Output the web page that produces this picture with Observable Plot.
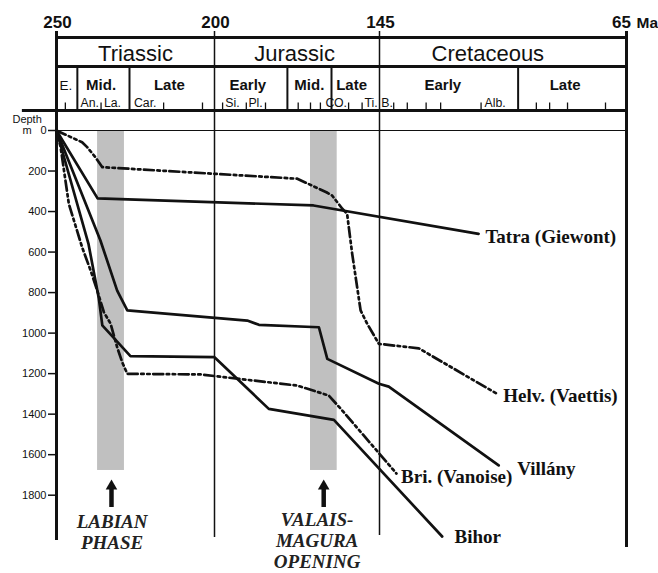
<!DOCTYPE html>
<html><head><meta charset="utf-8">
<script src="https://cdn.jsdelivr.net/npm/d3@7"></script>
<script src="https://cdn.jsdelivr.net/npm/@observablehq/plot@0.6"></script>
<style>body{margin:0;background:#fff;overflow:hidden}</style>
</head><body><div id="chart"></div>
<script>
// ---- data (ages in Ma, depths in m) ----
const ageTicks = [250, 200, 145, 65];
const depthTicks = [0, 200, 400, 600, 800, 1000, 1200, 1400, 1600, 1800];
const periods = ["Triassic", "Jurassic", "Cretaceous"];
const periodMid = [225, 173.3, 109.9];
const epochs = ["E.", "Mid.", "Late", "Early", "Mid.", "Late", "Early", "Late"];
const epochMid = [247, 235.9, 214.3, 188.9, 168.4, 154.3, 124.5, 84.9];
const epochBounds = [243.4, 226.9, 175.7, 161, 100.1];
const stages = ["An.", "La.", "Car.", "Si.", "Pl.", "C", "O.", "Ti.", "B.", "Alb."];
const stageStart = [242.4, 235, 225.5, 196.4, 188.7, 163, 160.2, 150, 144.4, 111];
const stageTicks = [247.2, 235.9, 216.1, 203.8, 197.3, 189.4, 183, 172.1, 168, 164.7, 155.3, 150.8,
  140.4, 136, 129.9, 125.2, 112.1, 94.2, 89.9, 84.1, 71.8];

const tatra = [[250,0],[237,335],[167,370],[112.9,510]];
const helvetic = [[250,0],[241.9,58],[240.3,82],[237.7,132],[235.5,181],[172.4,238],[162.7,305],[160.8,321],
  [157.4,386],[155.8,411],[154.1,609],[151.3,888],[149.1,954],[145.2,1053],[132.3,1075],[106.9,1300]];
const villany = [[250,0],[236.1,543],[230.8,790],[227.6,888],[189.1,938],[185.2,959],[165.2,971],[162.4,1127],
  [145.2,1250],[142,1264],[106.4,1653]];
const bihor = [[250,0],[239.9,558],[236.6,829],[235.5,962],[226.6,1114],[200,1119],[181.9,1374],[160.2,1428],[124.7,2004]];
const vanoise = [[250,0],[248.7,82],[246.1,362],[241.9,576],[239.2,691],[237.1,790],[235,897],[232.9,953],
  [230.8,1070],[229.2,1144],[227.6,1201],[204.4,1204],[172.4,1259],[161.9,1308],[158,1372],[139.5,1693]];

const seriesNames = ["Tatra (Giewont)", "Helv. (Vaettis)", "Villány", "Bri. (Vanoise)", "Bihor"];
const labelAge = [110.7, 104.9, 100.4, 138, 120.7];
const labelDepth = [553, 1341, 1698, 1742, 2037];

const events = ["LABIAN\nPHASE", "VALAIS-\nMAGURA\nOPENING"];
const bandStart = [237, 168];
const bandEnd = [228.5, 159.1];
const bandDepth = [1678, 1678];
const eventAge = [232.4, 165.8];
const arrowAge = [232.6, 163.6];

// ---- layout ----
const Y0 = 130, Y1800 = 494.7;
const py = p => (p - Y0) * 1800 / (Y1800 - Y0); // pixel row -> depth units
const serif = "'Liberation Serif','Times New Roman',serif";
const sans = "'Liberation Sans',Arial,sans-serif";
const ink = "#111";
const dash = "10,3.5,2.5,3.5,2.5,3.5";
const lineOpts = {x: d => d[0], y: d => d[1], stroke: ink, strokeWidth: 2.7, strokeLinejoin: "round"};
const topText = {y: () => py(27), text: d => String(d), lineAnchor: "bottom", fontSize: 17, fontWeight: "bold", fill: ink};

const chart = Plot.plot({
  width: 658, height: 573,
  marginLeft: 56, marginRight: 32, marginTop: 0, marginBottom: 0,
  style: {fontFamily: sans, background: "#fff", color: ink},
  x: {type: "linear", domain: ageTicks, range: [56, 214, 379, 626], axis: null},
  y: {domain: [0, 1800], range: [Y0, Y1800], axis: null},
  marks: [
    Plot.rect(bandStart, {x1: (d, i) => bandStart[i], x2: (d, i) => bandEnd[i], y1: () => 0, y2: (d, i) => bandDepth[i], fill: "#c0c0c0"}),
    // frame
    Plot.ruleY([py(37), py(66)], {x1: 250, x2: 65, stroke: ink, strokeWidth: 3}),
    Plot.ruleY([py(110)], {x1: 260.8, x2: 65, stroke: ink, strokeWidth: 3}),
    Plot.ruleY([0], {x1: 250, x2: 65, stroke: ink, strokeWidth: 1.2}),
    Plot.ruleX([250], {y1: py(31), y2: py(540), stroke: ink, strokeWidth: 3}),
    Plot.ruleX([65], {y1: py(31), y2: py(547), stroke: ink, strokeWidth: 3}),
    Plot.ruleX([200], {y1: py(31), y2: py(537), stroke: ink, strokeWidth: 1.5}),
    Plot.ruleX([145], {y1: py(31), y2: py(535), stroke: ink, strokeWidth: 1.5}),
    Plot.ruleX(epochBounds, {y1: py(66), y2: py(110), stroke: ink, strokeWidth: 2}),
    Plot.ruleX(stageTicks, {y1: py(102.5), y2: py(110), stroke: ink, strokeWidth: 1.3}),
    // header text
    Plot.text(ageTicks.slice(0, 3), {x: d => d, dx: 1, ...topText}),
    Plot.text(ageTicks.slice(3), {x: d => d, dx: -5, ...topText}),
    Plot.text(["Ma"], {x: () => 65, y: () => py(27), dx: 10, text: d => d, textAnchor: "start", lineAnchor: "bottom", fontSize: 15.5, fontWeight: "bold", fill: ink}),
    Plot.text(periods, {x: (d, i) => periodMid[i], y: () => py(60), text: d => d, lineAnchor: "bottom", fontSize: 22, fill: ink}),
    Plot.text(epochs.slice(1), {x: (d, i) => epochMid[i + 1], y: () => py(89.5), text: d => d, lineAnchor: "bottom", fontSize: 15, fontWeight: "bold", fill: ink}),
    Plot.text(epochs.slice(0, 1), {x: () => epochMid[0], y: () => py(89.5), text: d => d, lineAnchor: "bottom", fontSize: 13.5, fill: ink}),
    Plot.text(stages, {x: (d, i) => stageStart[i], y: () => py(106.5), text: d => d, textAnchor: "start", lineAnchor: "bottom", fontSize: 12.3, fill: ink}),
    // y axis
    Plot.axisY({ticks: depthTicks, tickSize: 8, tickPadding: 2, fontSize: 11, strokeWidth: 1.5, label: null, anchor: "left", tickFormat: d => String(d)}),
    Plot.text(["Depth\nm"], {x: () => 259.3, y: () => py(133.3), text: d => d, lineAnchor: "bottom", lineHeight: 0.96, fontSize: 11, fill: ink}),
    // curves
    Plot.line(tatra, lineOpts),
    Plot.line(villany, lineOpts),
    Plot.line(bihor, lineOpts),
    Plot.line(helvetic, {...lineOpts, strokeDasharray: dash}),
    Plot.line(vanoise, {...lineOpts, strokeDasharray: dash}),
    // series labels
    Plot.text(seriesNames, {x: (d, i) => labelAge[i], y: (d, i) => labelDepth[i], text: d => d, textAnchor: "start", lineAnchor: "bottom",
      fontFamily: serif, fontWeight: "bold", fontSize: 19, fill: ink, stroke: "white", strokeWidth: 4}),
    // events
    Plot.ruleX(arrowAge, {y1: py(488), y2: py(507), stroke: ink, strokeWidth: 4.5}),
    Plot.dot(arrowAge, {x: d => d, y: () => py(485.7), symbol: "triangle", r: 4.3, fill: ink, stroke: null}),
    Plot.text(events, {x: (d, i) => eventAge[i], y: (d, i) => py(i === 0 ? 548 : 567), text: d => d, lineAnchor: "bottom", lineHeight: 1.1,
      fontFamily: serif, fontWeight: "bold", fontStyle: "italic", fontSize: 19, fill: "#222"})
  ]
});
document.getElementById("chart").appendChild(chart);
</script>
</body></html>
